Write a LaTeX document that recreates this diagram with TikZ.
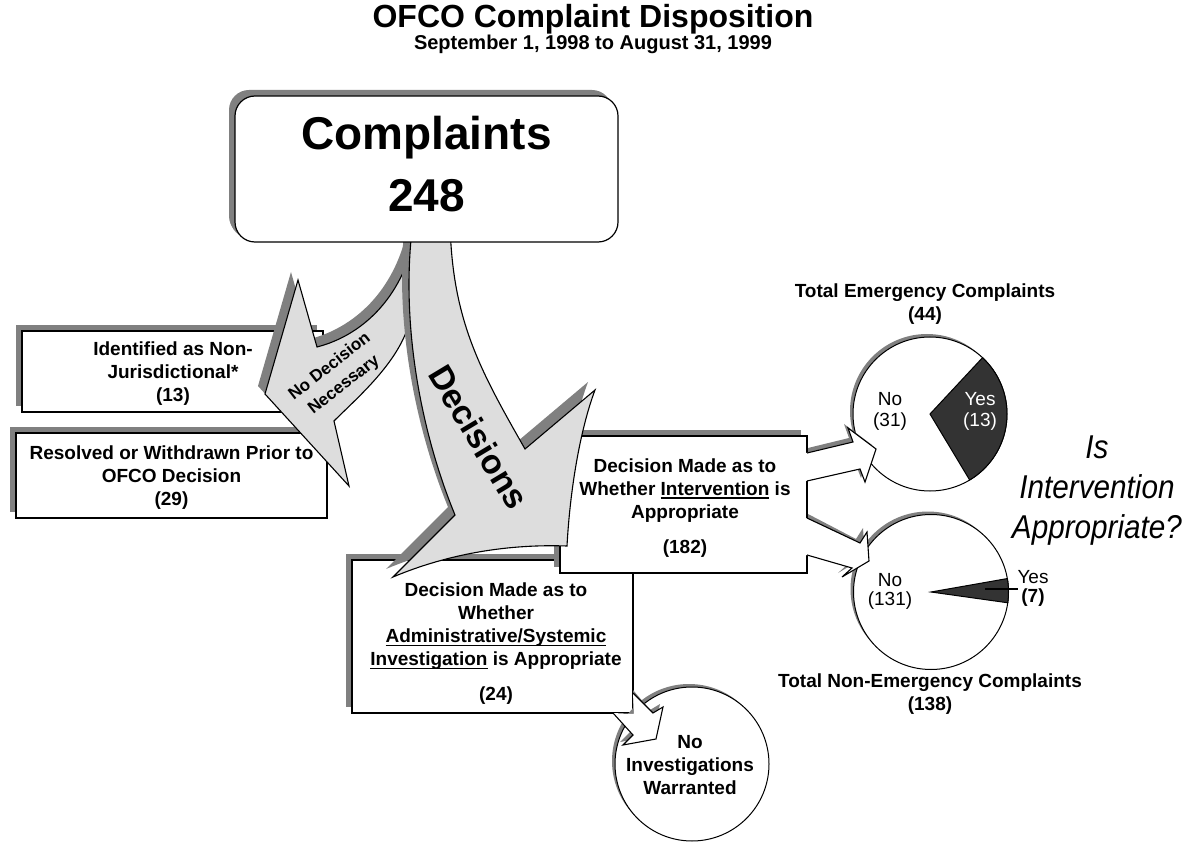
\documentclass[tikz,border=0pt]{standalone}
\usepackage{fontspec}
\setmainfont{Liberation Sans}
\usetikzlibrary{shadows}
\definecolor{sgray}{HTML}{808080}
\definecolor{agray}{HTML}{DDDDDD}
\definecolor{dgray}{HTML}{333333}
\newsavebox\ulbox
\newcommand\myul[1]{\sbox\ulbox{#1}\rlap{\rule[-3.2pt]{\wd\ulbox}{1.3pt}}\usebox\ulbox}
\newcommand\decshape[1]{\path[#1] (413,222) .. controls (400,320) and (420,430) .. (455,515) -- (393,577) .. controls (450,553) and (510,544) .. (567,546) .. controls (570,490) and (580,430) .. (595,390) -- (525,449) .. controls (480,370) and (452,320) .. (450,222) -- cycle;}
\newcommand\ndnshape[1]{\path[#1] (415,235) .. controls (402,300) and (360,336) .. (317,347) -- (298,280) -- (265,394) -- (349,486) -- (334,421) .. controls (355,400) and (390,370) .. (405,335) -- (420,300) -- (430,235) -- cycle;}
\begin{document}
\begin{tikzpicture}[x=1pt,y=-1pt,
  bt/.style={font=\fontsize{19}{23}\selectfont\bfseries, align=center, inner sep=0pt},
  rt/.style={font=\fontsize{19}{21}\selectfont, align=center, inner sep=0pt},
  shbox/.style={draw, line width=1.2pt, fill=white, inner sep=0pt,
    drop shadow={shadow xshift=-6pt, shadow yshift=6pt, fill=sgray, opacity=1}},
  pie/.style={circle, draw, line width=1pt, fill=white, inner sep=0pt,
    drop shadow={shadow xshift=-3pt, shadow yshift=3pt, fill=sgray, opacity=1}},
  outl/.style={draw=black, line width=1.1pt, line join=miter},
  line width=1.1pt]
\useasboundingbox (0,0) rectangle (1187,842);

% title
\node[font=\fontsize{32}{38}\selectfont\bfseries, anchor=base] (title) at (593,28) {OFCO Complaint Disposition};
\node[font=\fontsize{20}{24}\selectfont\bfseries, anchor=base] (subtitle) at (593,50) {September 1, 1998 to August 31, 1999};

% lower boxes
\node[shbox, minimum width=281pt, minimum height=153pt] (admin) at (492.5,636.5) {};
\node[bt] (admintxt) at (496,644) {Decision Made as to\\Whether\\\myul{Administrative/Systemic}\\\myul{Investigation} is Appropriate\\[12pt](24)};
\node[shbox, minimum width=247pt, minimum height=137pt] (interv) at (683.5,504.5) {};
\node[bt] (intervtxt) at (685,508) {Decision Made as to\\Whether \myul{Intervention} is\\Appropriate\\[12pt](182)};

% left boxes
\node[shbox, minimum width=301pt, minimum height=81pt] (nonjur) at (172.5,371.5) {};
\node[bt] (nonjurtxt) at (173,374) {Identified as Non-\\Jurisdictional*\\(13)};
\node[shbox, minimum width=311pt, minimum height=85pt] (resolved) at (171.5,475.5) {};
\node[bt] (resolvedtxt) at (171.5,478) {Resolved or Withdrawn Prior to\\OFCO Decision\\(29)};

% No Decision Necessary arrow
\ndnshape{fill=sgray, shift={(-7,-8)}}
\ndnshape{fill=agray, outl}
\node[font=\fontsize{17}{23}\selectfont\bfseries, align=center, rotate=38, inner sep=0pt] (ndn) at (337,376) {No Decision\\Necessary};

% Decisions arrow
\decshape{fill=sgray, shift={(-7,-8)}}
\decshape{fill=agray, outl}
\node[font=\fontsize{34}{40}\selectfont\bfseries, rotate=-59, inner sep=0pt] (dec) at (479,437) {Decisions};

% Complaints box
\node[shbox, rounded corners=20pt, minimum width=383pt, minimum height=146pt,
  drop shadow={shadow xshift=-5pt, shadow yshift=4pt, fill=sgray, opacity=1}] (complaints) at (426.5,169) {};
\node[font=\fontsize{46}{62}\selectfont\bfseries, align=center, inner sep=0pt] (complaintstxt) at (426.5,164) {Complaints\\248};

% pies
\node[pie, minimum size=154pt] (pieA) at (930,414) {};
\fill[dgray, draw=black, line width=1pt] (pieA.center) -- ++(-47:77) arc[start angle=-47, end angle=59, radius=77] -- cycle;
\node[pie, minimum size=155pt] (pieB) at (931,592) {};
\fill[dgray, draw=black, line width=1pt] (pieB.center) -- ++(-10:77.5) arc[start angle=-10, end angle=8, radius=77.5] -- cycle;
\node[pie, minimum size=154pt] (niw) at (692,764) {};
\node[bt] (niwtxt) at (690,765.5) {No\\Investigations\\Warranted};

% block arrows
\fill[sgray] (808,448) -- (849,438) -- (844,424) -- (872,445) -- (861,478) -- (856,465) -- (808,477) -- cycle;
\fill[white] (806,453) -- (853,442) -- (848,428) -- (876,449) -- (865,482) -- (860,469) -- (806,481) -- cycle;
\draw[line join=miter] (807,453) -- (853,442) -- (848,428) -- (876,449) -- (865,482) -- (860,469) -- (807,481);

\fill[sgray] (808,514) -- (856,539) -- (863,528) -- (865,557) -- (838,573) -- (848,564) -- (808,551) -- cycle;
\fill[white] (806,518) -- (860,543) -- (867,532) -- (869,561) -- (842,577) -- (852,568) -- (806,555) -- cycle;
\draw[line join=miter] (807,518) -- (860,543) -- (867,532) -- (869,561) -- (842,577) -- (852,568) -- (807,555);

\fill[sgray] (633,690) -- (650,710) -- (660,704) -- (653,736) -- (620,742) -- (630,732) -- (633,713) -- cycle;
\fill[white] (633,693) -- (653,713) -- (663,707) -- (656,739) -- (623,745) -- (633,735) -- (613,713) -- (634,714) -- cycle;
\draw[line join=miter] (633,693) -- (653,713) -- (663,707) -- (656,739) -- (623,745) -- (633,735) -- (613,713);

% pie labels
\node[bt] (emerg) at (925,304) {Total Emergency Complaints\\(44)};
\node[bt] (nonemerg) at (930,694) {Total Non-Emergency Complaints\\(138)};
\node[rt] (noA) at (890,411) {No\\(31)};
\node[rt, text=white] (yesA) at (980,411) {Yes\\(13)};
\node[rt, font=\fontsize{19}{19}\selectfont] (noB) at (890,591) {No\\(131)};
\node[rt, font=\fontsize{19}{19}\selectfont] (yesB) at (1033,588) {Yes\\\textbf{(7)}};
\coordinate (yesleader) at (1018,589);
\draw (pieB.center) ++(54,-3) coordinate (yesstart) -- (yesleader);

\node[font=\fontsize{33}{40}\selectfont\itshape, align=center, inner sep=0pt] (question) at (1097,491) {\scalebox{0.9}[1]{Is}\\\scalebox{0.9}[1]{Intervention}\\\scalebox{0.9}[1]{Appropriate?}};
\end{tikzpicture}
\end{document}
